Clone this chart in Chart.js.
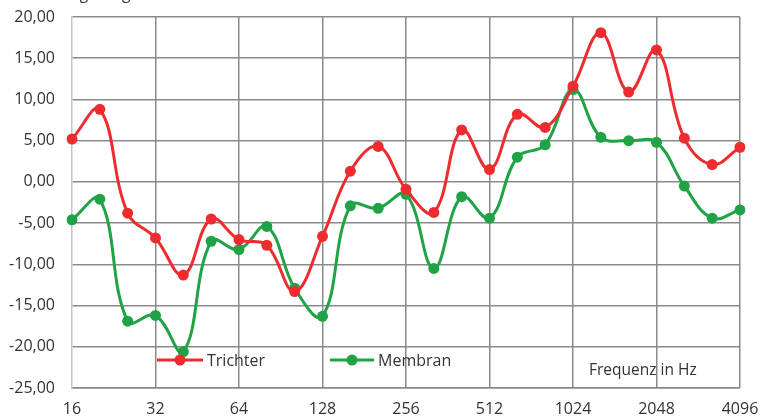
<!DOCTYPE html>
<html>
<head>
<meta charset="utf-8">
<script src="https://cdn.jsdelivr.net/npm/chart.js@4/dist/chart.umd.min.js"></script>
<style>
html,body{margin:0;padding:0;background:#fff;}
#wrap{position:relative;width:765px;height:419px;}
canvas{display:block;}
</style>
</head>
<body>
<div id="wrap"><canvas id="c" width="765" height="419"></canvas></div>
<script>
const frequencies = [16,20,25,32,40,50,64,80,101,128,161,203,256,323,406,512,645,813,1024,1290,1625,2048,2580,3251,4096];
const tickLabels = ['16','32','64','128','256','512','1024','2048','4096'];
const trichter = [5.2,8.8,-3.8,-6.8,-11.3,-4.5,-7.0,-7.7,-13.3,-6.6,1.3,4.3,-0.9,-3.7,6.3,1.5,8.2,6.6,11.6,18.1,10.9,16.0,5.3,2.1,4.2];
const membran = [-4.6,-2.1,-16.9,-16.2,-20.6,-7.2,-8.2,-5.4,-12.9,-16.3,-2.9,-3.2,-1.5,-10.5,-1.8,-4.4,3.0,4.5,11.2,5.4,5.0,4.8,-0.5,-4.4,-3.4];
const yTicks = [-25,-20,-15,-10,-5,0,5,10,15,20];
const seriesNames = ['Trichter','Membran'];
const xTitle = 'Frequenz in Hz';
const topTitle = 'Steigerung in dB';

const RED = '#ee2b2e';
const GREEN = '#1fa346';
const GRID = '#8a8a8a';
const TXT = '#333';
const FONT = "'Open Sans', 'Liberation Sans', sans-serif";

const overlay = {
  id: 'overlay',
  afterDatasetsDraw(chart) {
    const ctx = chart.ctx;
    ctx.save();
    ctx.font = "16px " + FONT;
    ctx.textBaseline = 'middle';
    ctx.textAlign = 'left';
    const items = [
      {x1: 157, x2: 203, c: RED, name: seriesNames[0]},
      {x1: 330, x2: 374, c: GREEN, name: seriesNames[1]}
    ];
    const y = 360;
    items.forEach(it => {
      ctx.strokeStyle = it.c;
      ctx.lineWidth = 3;
      ctx.beginPath(); ctx.moveTo(it.x1, y); ctx.lineTo(it.x2, y); ctx.stroke();
      ctx.fillStyle = it.c;
      ctx.beginPath(); ctx.arc((it.x1 + it.x2) / 2, y, 5.5, 0, Math.PI * 2); ctx.fill();
      ctx.fillStyle = TXT;
      ctx.fillText(it.name, it.x2 + 4, y + 1);
    });
    ctx.fillStyle = TXT;
    ctx.font = "15.5px " + FONT;
    ctx.fillText(xTitle, 589, 371);
    ctx.font = "15.5px " + FONT;
    ctx.textBaseline = 'alphabetic';
    ctx.fillText(topTitle, 53, -1);
    ctx.restore();
  }
};

new Chart(document.getElementById('c'), {
  type: 'line',
  data: {
    labels: frequencies,
    datasets: [
      {label: seriesNames[0], data: trichter, borderColor: RED, backgroundColor: RED, borderWidth: 3, pointRadius: 5.5, pointBackgroundColor: RED, pointBorderWidth: 0, tension: 0.4},
      {label: seriesNames[1], data: membran, borderColor: GREEN, backgroundColor: GREEN, borderWidth: 3, pointRadius: 5.5, pointBackgroundColor: GREEN, pointBorderWidth: 0, tension: 0.4}
    ]
  },
  options: {
    responsive: false,
    animation: false,
    devicePixelRatio: 1,
    layout: {padding: {left: 0, right: 25, top: 17, bottom: 0}},
    plugins: {legend: {display: false}, tooltip: {enabled: false}},
    scales: {
      x: {
        type: 'category',
        offset: false,
        grid: {
          drawTicks: false,
          lineWidth: 1.5,
          color: (c) => (c.index % 3 === 0 && c.index !== 0) ? GRID : 'rgba(0,0,0,0)'
        },
        border: {color: GRID, width: 1.5},
        ticks: {
          autoSkip: false,
          maxRotation: 0,
          minRotation: 0,
          padding: 12,
          color: TXT,
          font: {family: FONT, size: 16},
          callback: (v, i) => (i % 3 === 0) ? tickLabels[i / 3] : ''
        },
        afterFit: (s) => { s.height = 31; s.paddingLeft = 0; s.paddingRight = 0; }
      },
      y: {
        min: -25,
        max: 20,
        afterBuildTicks: (s) => { s.ticks = yTicks.map(v => ({value: v})); },
        grid: {drawTicks: false, lineWidth: 1.5, color: GRID},
        border: {color: '#c4c4c4', width: 1.5},
        ticks: {
          padding: 17,
          color: TXT,
          font: {family: FONT, size: 16},
          callback: (v) => v.toFixed(2).replace('.', ',')
        },
        afterFit: (s) => { s.width = 72; s.paddingTop = 0; s.paddingBottom = 0; }
      }
    }
  },
  plugins: [overlay]
});
</script>
</body>
</html>
